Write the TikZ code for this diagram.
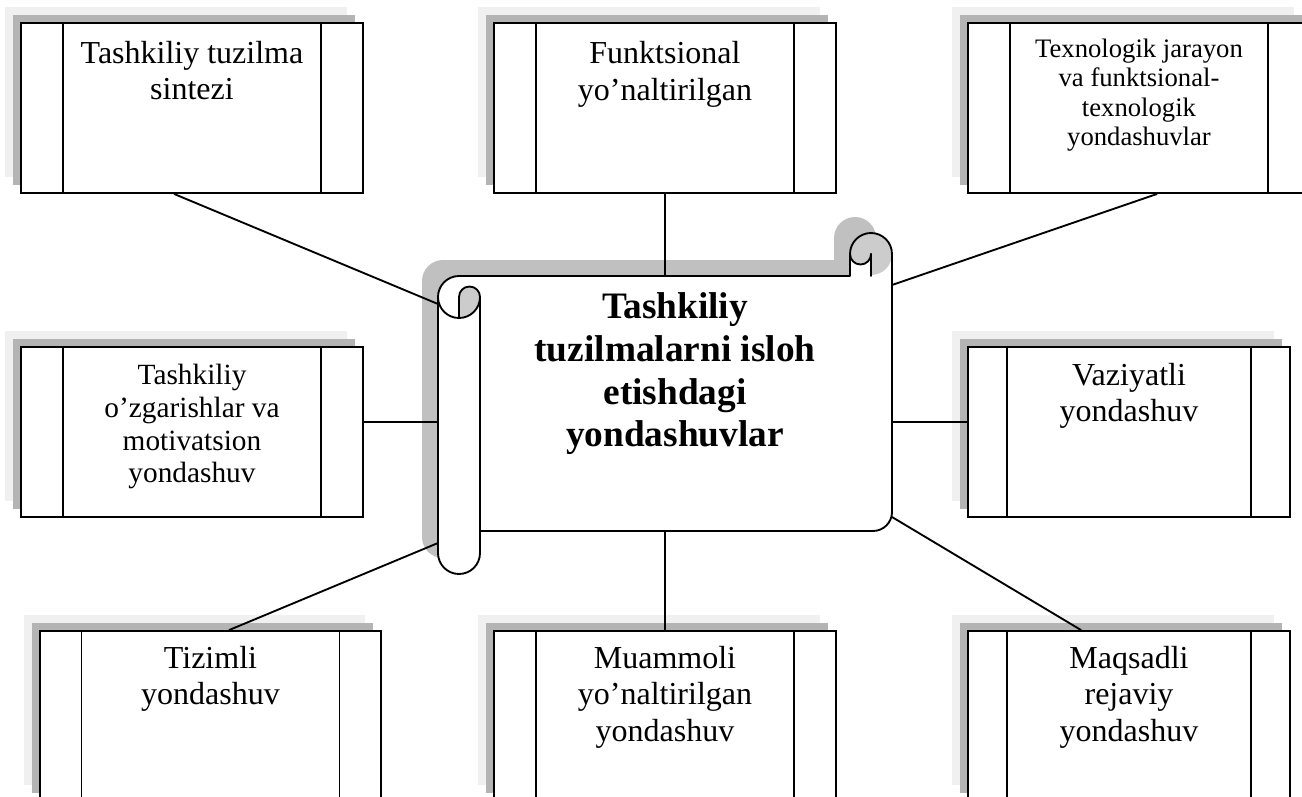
\documentclass[tikz,border=0pt]{standalone}
\usepackage{fontspec}
\setmainfont{Liberation Serif}
\usetikzlibrary{shadows,calc}
\definecolor{shlight}{RGB}{240,240,240}
\definecolor{shdark}{RGB}{180,180,180}
\definecolor{scrollsh}{RGB}{192,192,192}
\definecolor{curlgray}{RGB}{204,204,204}
\begin{document}
\begin{tikzpicture}[x=0.75pt,y=-0.75pt,
  procbox/.style={draw, line width=1.4pt, fill=white, inner sep=0pt,
    minimum height=127.5pt,
    copy shadow={shadow xshift=-12pt, shadow yshift=12pt, fill=shlight, draw=none},
    copy shadow={shadow xshift=-6pt, shadow yshift=6pt, fill=shdark, draw=none},
    path picture={
      \draw[line width=1.4pt]
        ($(path picture bounding box.north west)!0.1216!(path picture bounding box.north east)$) --
        ($(path picture bounding box.south west)!0.1216!(path picture bounding box.south east)$);
      \draw[line width=1.4pt]
        ($(path picture bounding box.north east)!0.1216!(path picture bounding box.north west)$) --
        ($(path picture bounding box.south east)!0.1216!(path picture bounding box.south west)$);
    }},
  boxtext/.style={anchor=north, align=center, inner sep=0pt},
  txtbig/.style={font=\fontsize{24}{27.5}\selectfont},
  sline/.style={line width=1.4pt, line join=round, line cap=round},
  conn/.style={line width=1.4pt}
]
\useasboundingbox (0,0) rectangle (1302,796);
\clip (0,0) rectangle (1302,796);

% ---------- boxes ----------
\node[procbox, minimum width=256.5pt] (b1) at (192,108) {};
\node[procbox, minimum width=256.5pt] (b2) at (665,108) {};
\node[procbox, minimum width=256.5pt] (b3) at (1139,108) {};
\node[procbox, minimum width=256.5pt] (b4) at (192,432) {};
\node[procbox, minimum width=241.5pt] (b5) at (1129,432) {};
\node[procbox, minimum width=255.75pt] (b6) at (210.5,716) {};
\node[procbox, minimum width=256.5pt] (b7) at (665,716) {};
\node[procbox, minimum width=241.5pt] (b8) at (1129,716) {};

\node[boxtext, txtbig] (t1) at ([yshift=-14pt]b1.north) {Tashkiliy tuzilma\\sintezi};
\node[boxtext, txtbig] (t2) at ([yshift=-14.5pt]b2.north) {Funktsional\\yo’naltirilgan};
\node[boxtext, font=\fontsize{20}{22}\selectfont] (t3) at ([yshift=-12.6pt]b3.north) {Texnologik jarayon\\va funktsional-\\texnologik\\yondashuvlar};
\node[boxtext, font=\fontsize{22}{24.5}\selectfont] (t4) at ([yshift=-13.5pt]b4.north) {Tashkiliy\\o’zgarishlar va\\motivatsion\\yondashuv};
\node[boxtext, txtbig] (t5) at ([yshift=-12.5pt]b5.north) {Vaziyatli\\yondashuv};
\node[boxtext, txtbig] (t6) at ([yshift=-11.8pt]b6.north) {Tizimli\\yondashuv};
\node[boxtext, txtbig] (t7) at ([yshift=-11.8pt]b7.north) {Muammoli\\yo’naltirilgan\\yondashuv};
\node[boxtext, txtbig] (t8) at ([yshift=-11.8pt]b8.north) {Maqsadli\\rejaviy\\yondashuv};

% ---------- scroll ----------
\def\scrollpath{(459,276) -- (850,276) -- (850,254)
  arc[start angle=180,end angle=360,radius=21] -- (892,512)
  arc[start angle=0,end angle=90,radius=19] -- (480,531) -- (480,553)
  arc[start angle=0,end angle=180,radius=21] -- (438,297)
  arc[start angle=180,end angle=270,radius=21] -- cycle}
\begin{scope}[shift={(-16,-16)}]
  \fill[scrollsh] \scrollpath;
\end{scope}
\fill[white] \scrollpath;
% curl shading
\fill[curlgray] (459,297) arc[start angle=180,end angle=360,radius=10.5]
  arc[start angle=0,end angle=90,radius=21] -- cycle;
\fill[curlgray] (871,254) circle[radius=21];
\fill[white] (850,254) arc[start angle=180,end angle=0,radius=10.5] -- (871,276) -- (850,276) -- cycle;
\draw[sline] \scrollpath;
\draw[sline] (459,297) arc[start angle=180,end angle=360,radius=10.5];
\draw[sline] (459,297) -- (459,318);
\draw[sline] (438,297) arc[start angle=180,end angle=0,radius=21];
\draw[sline] (480,297) -- (480,531);
\draw[sline] (850,254) arc[start angle=180,end angle=0,radius=10.5];
\draw[sline] (871,254) -- (871,276);

\node[minimum width=340.5pt, minimum height=191.25pt, inner sep=0pt] (scroll) at (665,403.5) {};
\node[anchor=north, align=center, inner sep=0pt, font=\bfseries\fontsize{28}{32}\selectfont] (title) at (675,292.5)
  {Tashkiliy\\tuzilmalarni isloh\\etishdagi\\yondashuvlar};

\coordinate (sL1) at (438,304);
\coordinate (sL2) at (438,422);
\coordinate (sL3) at (438,543);
\coordinate (sR1) at (892,285);
\coordinate (sR2) at (892,422);
\coordinate (sR3) at (892,517);

% ---------- connectors ----------
\draw[conn] ([xshift=115.5pt]b1.south west) -- (sL1);
\draw[conn] (b2.south) -- (scroll.north);
\draw[conn] ([xshift=142.5pt]b3.south west) -- (sR1);
\draw[conn] (b4.east |- sL2) -- (sL2);
\draw[conn] (sR2) -- (b5.west |- sR2);
\draw[conn] ([xshift=142.5pt]b6.north west) -- (sL3);
\draw[conn] (scroll.south) -- (b7.north);
\draw[conn] (sR3) -- ([xshift=85.5pt]b8.north west);
\end{tikzpicture}
\end{document}
